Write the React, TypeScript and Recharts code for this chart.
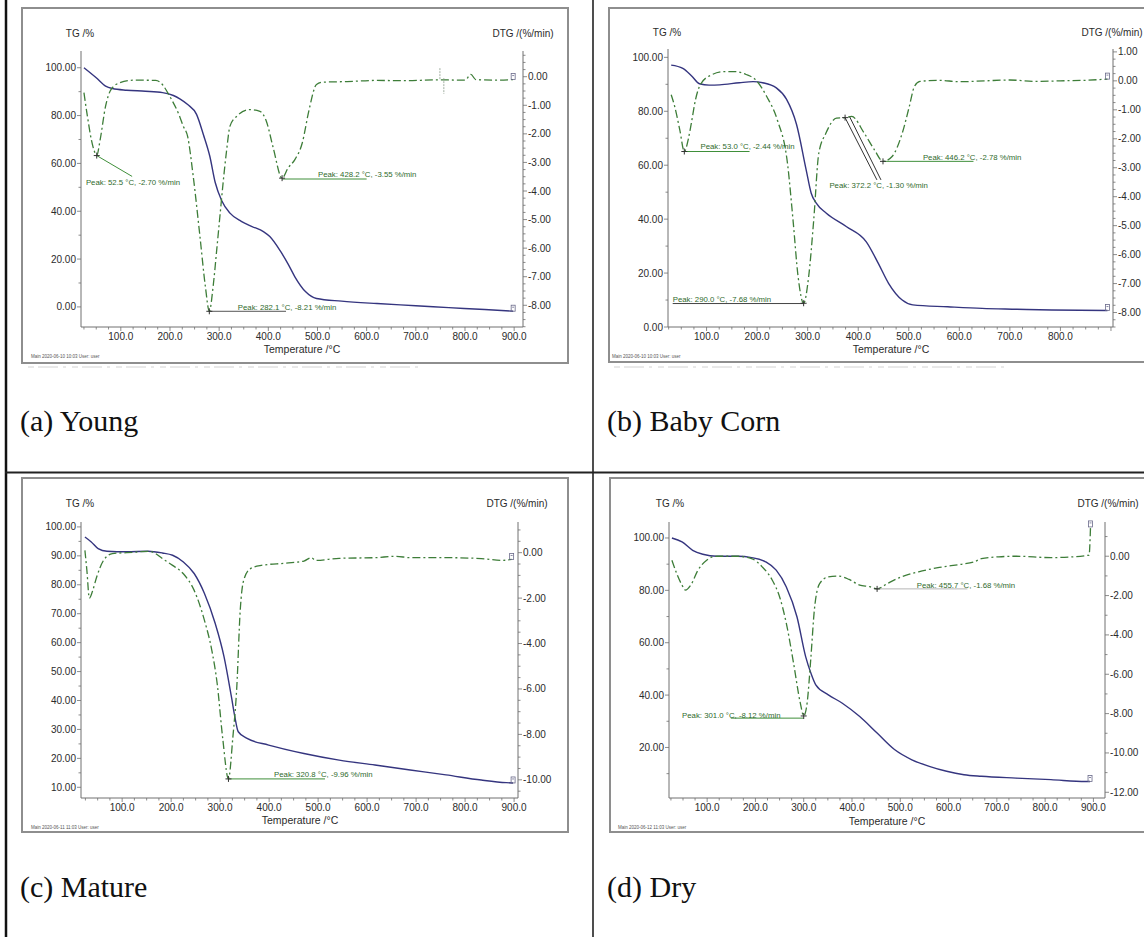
import React from 'react'
import { ComposedChart, Line, XAxis, YAxis, ReferenceLine, ReferenceDot } from 'recharts'

// ---------- (a) Young ----------
const youngTgTemp = [25, 50, 69, 83, 112, 150, 185, 207, 220, 236, 254, 268, 281, 292, 305, 322, 345, 367, 390, 403, 424, 440, 454, 476, 498, 549, 621, 700, 767, 840, 898]
const youngTg = [100, 95.8, 92.3, 91.3, 90.6, 90.2, 89.6, 88.4, 87, 84.6, 80.5, 72, 63, 52, 44.5, 39.2, 35.8, 33.6, 31.5, 29.4, 23.5, 18, 12.6, 6.3, 3.5, 2.4, 1.4, 0.5, -0.3, -1.1, -1.8]
const youngDtgTemp = [25, 32, 40, 46, 51, 58, 69, 80, 98, 127, 171, 181, 200, 218, 227, 236, 247, 261, 272, 280, 288, 295, 302, 308, 315, 322, 336, 363, 383, 396, 410, 428, 440, 454, 469, 483, 498, 512, 560, 620, 680, 740, 800, 812, 822, 860, 898]
const youngDtg = [-0.56, -1.38, -2.2, -2.6, -2.76, -2.2, -1.03, -0.45, -0.21, -0.12, -0.13, -0.21, -0.7, -1.32, -1.73, -2.1, -3.45, -5.6, -7.35, -8.21, -7.3, -6.07, -4.8, -3.72, -2.6, -1.73, -1.38, -1.15, -1.21, -1.56, -2.49, -3.55, -3.2, -2.9, -2.32, -1.15, -0.27, -0.19, -0.17, -0.13, -0.14, -0.11, -0.12, 0.08, -0.1, -0.12, -0.1]

// ---------- (b) Baby Corn ----------
const babyTgTemp = [30, 53, 70, 86, 105, 126, 165, 192, 211, 238, 258, 278, 297, 307, 317, 337, 377, 416, 440, 460, 487, 508, 577, 645, 714, 783, 893]
const babyTg = [97.1, 95.9, 93.2, 90.2, 89.7, 89.8, 90.6, 91.0, 90.6, 88.7, 84.5, 75.1, 58.3, 49.6, 45.9, 42.2, 37.2, 31.6, 23.5, 16.2, 10.0, 8.2, 7.5, 6.9, 6.6, 6.3, 6.1]
const babyDtgTemp = [30, 37, 47, 56, 64, 70, 78, 88, 109, 136, 157, 178, 198, 219, 240, 260, 271, 281, 292, 302, 312, 322, 336, 357, 374, 387, 412, 432, 449, 467, 487, 501, 511, 522, 560, 600, 650, 700, 750, 800, 850, 893]
const babyDtg = [-0.48, -0.89, -1.69, -2.44, -2.0, -1.45, -0.66, -0.12, 0.2, 0.32, 0.32, 0.22, 0.02, -0.54, -1.35, -2.84, -4.8, -6.75, -7.68, -6.75, -4.8, -2.5, -1.81, -1.29, -1.27, -1.23, -1.81, -2.38, -2.78, -2.61, -1.81, -0.89, -0.2, -0.02, 0.02, -0.03, 0.0, 0.03, -0.02, 0.0, 0.02, 0.06]

// ---------- (c) Mature ----------
const matureTgTemp = [24, 37, 51, 69, 109, 153, 182, 203, 225, 247, 268, 290, 308, 323, 330, 337, 355, 399, 471, 543, 616, 688, 761, 833, 884, 898]
const matureTg = [96.5, 94.8, 92.5, 91.6, 91.4, 91.6, 91.0, 90.2, 87.9, 83.9, 77, 66.6, 55.1, 41.3, 34.4, 29.2, 26.9, 24.6, 21.7, 19.4, 17.7, 16.0, 14.3, 12.5, 11.6, 11.5]
const matureDtgTemp = [24, 28, 33, 40, 48, 62, 80, 109, 130, 153, 165, 182, 203, 225, 247, 268, 283, 294, 305, 317, 326, 334, 341, 348, 362, 384, 435, 471, 486, 495, 543, 616, 659, 688, 761, 833, 876, 895]
const matureDtg = [0.1, -0.78, -2.0, -1.66, -1.07, -0.34, -0.04, 0, 0.03, 0.06, 0.0, -0.26, -0.56, -0.93, -1.66, -2.98, -4.3, -5.77, -8.12, -9.96, -8.12, -5.92, -2.54, -1.22, -0.7, -0.56, -0.46, -0.37, -0.22, -0.34, -0.25, -0.22, -0.16, -0.22, -0.22, -0.26, -0.34, -0.3]

// ---------- (d) Dry ----------
const dryTgTemp = [27, 48, 70, 91, 120, 163, 192, 221, 243, 264, 286, 304, 315, 325, 351, 380, 416, 452, 488, 524, 560, 596, 632, 668, 740, 812, 884, 893]
const dryTg = [100, 98.5, 95.3, 93.8, 93, 93, 92.5, 90.9, 87.7, 81.3, 69.9, 54.7, 48.3, 43.9, 40.1, 36.9, 31.8, 25.5, 19.2, 15.3, 12.8, 10.9, 9.6, 9.0, 8.3, 7.7, 7.0, 7.0]
const dryDtgTemp = [27, 37, 48, 55, 66, 81, 99, 120, 163, 192, 214, 235, 250, 264, 279, 293, 300, 307, 315, 322, 333, 351, 372, 394, 416, 437, 452, 473, 502, 538, 581, 625, 653, 668, 704, 740, 812, 891, 894]
const dryDtg = [-0.2, -0.88, -1.47, -1.72, -1.47, -0.71, -0.2, 0, 0, -0.12, -0.54, -1.22, -2.06, -3.41, -5.44, -7.47, -8.12, -7.47, -5.1, -2.74, -1.39, -1.05, -1.01, -1.18, -1.47, -1.55, -1.66, -1.39, -1.05, -0.79, -0.57, -0.41, -0.29, -0.12, -0.03, 0, -0.07, 0.05, 1.49]

// tick labels
const xLabelsFull = [100, 200, 300, 400, 500, 600, 700, 800, 900]
const xLabelsTo800 = [100, 200, 300, 400, 500, 600, 700, 800]
const tgLabels20 = [0, 20, 40, 60, 80, 100]
const tgLabels20NoZero = [20, 40, 60, 80, 100]
const tgLabels10 = [10, 20, 30, 40, 50, 60, 70, 80, 90, 100]
const dtgLabelsYoung = [0, -1, -2, -3, -4, -5, -6, -7, -8]
const dtgLabelsBaby = [1, 0, -1, -2, -3, -4, -5, -6, -7, -8]
const dtgLabelsMature = [0, -2, -4, -6, -8, -10]
const dtgLabelsDry = [0, -2, -4, -6, -8, -10, -12]

const AX = '#707070'
const TXT = '#2b2b2b'
const TG_COLOR = '#35357f'
const DTG_COLOR = '#3d7d38'
const ANN = '#3f8f3a'
const SANS = '"Liberation Sans", Arial, sans-serif'
const SERIF = '"Liberation Serif", "Times New Roman", serif'

function range(a: number, b: number, step: number) {
  const out: number[] = []
  for (let v = a; v <= b + 1e-9; v += step) out.push(Math.round(v * 1000) / 1000)
  return out
}

function XTick({ x, y, payload, labels }: any) {
  const v = payload.value
  const major = Math.abs(v % 100) < 1e-6
  return (
    <g>
      <line x1={x} x2={x} y1={y} y2={y + (major ? 4 : 2.5)} stroke={AX} strokeWidth={0.8} />
      {labels.includes(v) && (
        <text x={x} y={y + 13} textAnchor="middle" fontSize={10} fontFamily={SANS} fill={TXT}>{v.toFixed(1)}</text>
      )}
    </g>
  )
}

function LeftTick({ x, y, payload, labels }: any) {
  const v = payload.value
  const major = labels.includes(v)
  return (
    <g>
      <line x1={x} x2={x - (major ? 4 : 2.5)} y1={y} y2={y} stroke={AX} strokeWidth={0.8} />
      {major && <text x={x - 5} y={y + 3.5} textAnchor="end" fontSize={10} fontFamily={SANS} fill={TXT}>{v.toFixed(2)}</text>}
    </g>
  )
}

function RightTick({ x, y, payload, labels }: any) {
  const v = payload.value
  const major = labels.includes(v)
  return (
    <g>
      <line x1={x} x2={x + (major ? 4 : 2.5)} y1={y} y2={y} stroke={AX} strokeWidth={0.8} />
      {major && <text x={x + 5} y={y + 3.5} textAnchor="start" fontSize={10} fontFamily={SANS} fill={TXT}>{v.toFixed(2)}</text>}
    </g>
  )
}

// small end-of-curve segment markers drawn by the instrument software
function EndMark(p: any) {
  return (
    <g stroke="#6a6a8a" strokeWidth={0.8} fill="none">
      <rect x={p.cx - 2} y={p.cy - 6} width={4} height={6} />
      <line x1={p.cx - 1} x2={p.cx + 1} y1={p.cy - 4} y2={p.cy - 4} />
    </g>
  )
}

type Ann = { peak: [number, number]; lines: number[][]; text: [number, number]; label: string; lineColor?: string }
type Box = { l: number; t: number; r: number; b: number }
type Cfg = {
  box: Box; plot: Box
  xDomain: [number, number]; tgDomain: [number, number]; dtgDomain: [number, number]
  xLabels: number[]; tgLabels: number[]; tgMinor: number; dtgLabels: number[]; dtgMinor: number
  tgT: number[]; tg: number[]; dtgT: number[]; dtg: number[]
  anns: Ann[]
  extra?: number[][]
}

const panels: Cfg[] = [
  {
    box: { l: 22, t: 8, r: 568, b: 363 }, plot: { l: 81, t: 51, r: 523, b: 327 },
    xDomain: [19, 918], tgDomain: [-8.4, 107], dtgDomain: [-8.76, 0.9],
    xLabels: xLabelsFull, tgLabels: tgLabels20, tgMinor: 10, dtgLabels: dtgLabelsYoung, dtgMinor: 0.25,
    tgT: youngTgTemp, tg: youngTg, dtgT: youngDtgTemp, dtg: youngDtg,
    anns: [
      { peak: [51, -2.76], lines: [[51, -2.76, 123, -3.49]], text: [29, -3.69], label: 'Peak: 52.5 °C, -2.70 %/min' },
      { peak: [280, -8.21], lines: [[280, -8.21, 436, -8.21]], text: [338, -8.06], label: 'Peak: 282.1 °C, -8.21 %/min', lineColor: '#555' },
      { peak: [428, -3.55], lines: [[428, -3.58, 600, -3.58]], text: [501, -3.41], label: 'Peak: 428.2 °C, -3.55 %/min' },
    ],
    extra: [[749, 0.3, 749, -0.1], [757, -0.05, 757, -0.6]],
  },
  {
    box: { l: 609, t: 8, r: 1160, b: 362 }, plot: { l: 668, t: 49, r: 1113, b: 327 },
    xDomain: [23.7, 904], tgDomain: [0, 103.1], dtgDomain: [-8.5, 1.1],
    xLabels: xLabelsTo800, tgLabels: tgLabels20, tgMinor: 10, dtgLabels: dtgLabelsBaby, dtgMinor: 0.25,
    tgT: babyTgTemp, tg: babyTg, dtgT: babyDtgTemp, dtg: babyDtg,
    anns: [
      { peak: [56, -2.44], lines: [[56, -2.44, 185, -2.44]], text: [88, -2.27], label: 'Peak: 53.0 °C, -2.44 %/min' },
      { peak: [374, -1.27], lines: [[374, -1.27, 437, -3.42], [383, -1.24, 445, -3.42]], text: [343, -3.62], label: 'Peak: 372.2 °C, -1.30 %/min', lineColor: '#333' },
      { peak: [449, -2.78], lines: [[449, -2.78, 628, -2.78]], text: [528, -2.62], label: 'Peak: 446.2 °C, -2.78 %/min' },
      { peak: [292, -7.68], lines: [[33, -7.69, 292, -7.69]], text: [33, -7.55], label: 'Peak: 290.0 °C, -7.68 %/min', lineColor: '#444' },
    ],
  },
  {
    box: { l: 22, t: 478, r: 568, b: 832 }, plot: { l: 81, t: 522, r: 518, b: 798 },
    xDomain: [16, 908], tgDomain: [6.3, 101.7], dtgDomain: [-10.8, 1.35],
    xLabels: xLabelsFull, tgLabels: tgLabels10, tgMinor: 5, dtgLabels: dtgLabelsMature, dtgMinor: 0.5,
    tgT: matureTgTemp, tg: matureTg, dtgT: matureDtgTemp, dtg: matureDtg,
    anns: [
      { peak: [317, -9.96], lines: [[317, -9.96, 514, -9.96]], text: [410, -9.77], label: 'Peak: 320.8 °C, -9.96 %/min' },
    ],
  },
  {
    box: { l: 610, t: 478, r: 1160, b: 832 }, plot: { l: 669, t: 522, r: 1105, b: 798 },
    xDomain: [21, 924], tgDomain: [0.7, 106.1], dtgDomain: [-12.29, 1.74],
    xLabels: xLabelsFull, tgLabels: tgLabels20NoZero, tgMinor: 10, dtgLabels: dtgLabelsDry, dtgMinor: 1,
    tgT: dryTgTemp, tg: dryTg, dtgT: dryDtgTemp, dtg: dryDtg,
    anns: [
      { peak: [300, -8.12], lines: [[149, -8.23, 300, -8.23]], text: [48, -8.06], label: 'Peak: 301.0 °C, -8.12 %/min' },
      { peak: [452, -1.66], lines: [[452, -1.66, 639, -1.66]], text: [534, -1.47], label: 'Peak: 455.7 °C, -1.68 %/min', lineColor: '#b5b5b5' },
    ],
  },
]

function Panel({ cfg }: { cfg: Cfg }) {
  const { box, plot } = cfg
  const width = box.r - box.l
  const height = box.b - box.t
  const tgData = cfg.tgT.map((t, i) => ({ t, v: cfg.tg[i] }))
  const dtgData = cfg.dtgT.map((t, i) => ({ t, v: cfg.dtg[i] }))
  const xTicks = range(25, cfg.xDomain[1], 25)
  const tgTicks = range(Math.ceil(cfg.tgDomain[0] / cfg.tgMinor) * cfg.tgMinor, cfg.tgDomain[1], cfg.tgMinor)
  const dtgTicks = range(Math.ceil(cfg.dtgDomain[0] / cfg.dtgMinor) * cfg.dtgMinor, cfg.dtgDomain[1], cfg.dtgMinor)
  const tgEnd = tgData[tgData.length - 1]
  const dtgEnd = dtgData[dtgData.length - 1]
  return (
    <div style={{ position: 'absolute', left: box.l, top: box.t }}>
      <ComposedChart width={width} height={height} margin={{ top: plot.t - box.t, right: 0, bottom: 0, left: 0 }}>
        <XAxis type="number" dataKey="t" domain={cfg.xDomain} allowDataOverflow ticks={xTicks} interval={0}
          tickSize={0} tickMargin={0} tickLine={false} height={box.b - plot.b}
          axisLine={{ stroke: AX, strokeWidth: 1 }}
          tick={(p: any) => <XTick {...p} labels={cfg.xLabels} />} />
        <YAxis yAxisId="tg" orientation="left" type="number" domain={cfg.tgDomain} allowDataOverflow ticks={tgTicks}
          interval={0} tickSize={0} tickMargin={0} tickLine={false} width={plot.l - box.l}
          axisLine={{ stroke: AX, strokeWidth: 1 }}
          tick={(p: any) => <LeftTick {...p} labels={cfg.tgLabels} />} />
        <YAxis yAxisId="dtg" orientation="right" type="number" domain={cfg.dtgDomain} allowDataOverflow ticks={dtgTicks}
          interval={0} tickSize={0} tickMargin={0} tickLine={false} width={box.r - plot.r}
          axisLine={{ stroke: AX, strokeWidth: 1 }}
          tick={(p: any) => <RightTick {...p} labels={cfg.dtgLabels} />} />
        <Line yAxisId="tg" data={tgData} dataKey="v" type="monotone" stroke={TG_COLOR} strokeWidth={1.4}
          dot={false} isAnimationActive={false} />
        <Line yAxisId="dtg" data={dtgData} dataKey="v" type="monotone" stroke={DTG_COLOR} strokeWidth={1.3}
          strokeDasharray="8 3 2 3" dot={false} isAnimationActive={false} />
        {(cfg.extra || []).map((ln, i) => (
          <ReferenceLine key={`e${i}`} yAxisId="dtg" ifOverflow="visible"
            segment={[{ x: ln[0], y: ln[1] }, { x: ln[2], y: ln[3] }]}
            stroke="#8a9a8a" strokeWidth={0.8} strokeDasharray="2 1" />
        ))}
        {cfg.anns.flatMap((a, i) => a.lines.map((ln, j) => (
          <ReferenceLine key={`l${i}-${j}`} yAxisId="dtg" ifOverflow="visible"
            segment={[{ x: ln[0], y: ln[1] }, { x: ln[2], y: ln[3] }]}
            stroke={a.lineColor || ANN} strokeWidth={1} />
        )))}
        {cfg.anns.map((a, i) => (
          <ReferenceDot key={`p${i}`} yAxisId="dtg" x={a.peak[0]} y={a.peak[1]} r={0} ifOverflow="visible"
            shape={(p: any) => (
              <g>
                <line x1={p.cx - 3} x2={p.cx + 3} y1={p.cy} y2={p.cy} stroke="#333" strokeWidth={1} />
                <line x1={p.cx} x2={p.cx} y1={p.cy - 3} y2={p.cy + 3} stroke="#333" strokeWidth={1} />
              </g>
            )} />
        ))}
        {cfg.anns.map((a, i) => (
          <ReferenceDot key={`t${i}`} yAxisId="dtg" x={a.text[0]} y={a.text[1]} r={0} ifOverflow="visible"
            shape={(p: any) => (
              <text x={p.cx} y={p.cy + 2.8} fontSize={7.8} fontFamily={SANS} fill="#2f6a2c">{a.label}</text>
            )} />
        ))}
        <ReferenceDot yAxisId="tg" x={tgEnd.t} y={tgEnd.v} r={0} ifOverflow="visible" shape={EndMark} />
        <ReferenceDot yAxisId="dtg" x={dtgEnd.t} y={dtgEnd.v} r={0} ifOverflow="visible" shape={EndMark} />
      </ComposedChart>
    </div>
  )
}

type Note = { x: number; y: number; s: string; size: number; anchor?: 'start' | 'middle' | 'end'; color?: string }

const notes: Note[] = [
  { x: 80, y: 33, s: 'TG /%', size: 10 },
  { x: 523, y: 33, s: 'DTG /(%/min)', size: 10 },
  { x: 302, y: 349, s: 'Temperature /°C', size: 10.5 },
  { x: 31, y: 356, s: 'Main   2020-06-10 10:03    User: user', size: 4.5, anchor: 'start', color: '#555' },
  { x: 667, y: 32, s: 'TG /%', size: 10 },
  { x: 1112, y: 32, s: 'DTG /(%/min)', size: 10 },
  { x: 891, y: 349, s: 'Temperature /°C', size: 10.5 },
  { x: 612, y: 356, s: 'Main   2020-06-10 10:03    User: user', size: 4.5, anchor: 'start', color: '#555' },
  { x: 80, y: 503, s: 'TG /%', size: 10 },
  { x: 517, y: 503, s: 'DTG /(%/min)', size: 10 },
  { x: 300, y: 820, s: 'Temperature /°C', size: 10.5 },
  { x: 31, y: 827, s: 'Main   2020-06-11 11:03    User: user', size: 4.5, anchor: 'start', color: '#555' },
  { x: 670, y: 503, s: 'TG /%', size: 10 },
  { x: 1108, y: 503, s: 'DTG /(%/min)', size: 10 },
  { x: 887, y: 821, s: 'Temperature /°C', size: 10.5 },
  { x: 618, y: 827, s: 'Main   2020-06-12 11:03    User: user', size: 4.5, anchor: 'start', color: '#555' },
]

const captions = [
  { x: 20, y: 431, s: '(a) Young' },
  { x: 607, y: 431, s: '(b) Baby Corn' },
  { x: 20, y: 897, s: '(c) Mature' },
  { x: 607, y: 897, s: '(d) Dry' },
]

export default function App() {
  return (
    <div style={{ position: 'absolute', left: 0, top: 0, width: 1144, height: 937, overflow: 'hidden', background: '#fff' }}>
      <svg width={1144} height={937} style={{ position: 'absolute', left: 0, top: 0 }}>
        {/* table rules */}
        <line x1={6} x2={6} y1={0} y2={937} stroke="#111" strokeWidth={2.5} />
        <line x1={593} x2={593} y1={0} y2={937} stroke="#222" strokeWidth={1.6} />
        <line x1={5} x2={1144} y1={472.5} y2={472.5} stroke="#222" strokeWidth={2.2} />
        {/* faint scan residue under the top screenshots */}
        <line x1={28} x2={420} y1={367} y2={367} stroke="#d2d2d2" strokeWidth={1} strokeDasharray="6 4 20 5 3 6" />
        <line x1={614} x2={1010} y1={367} y2={367} stroke="#d2d2d2" strokeWidth={1} strokeDasharray="6 4 20 5 3 6" />
        {/* screenshot frames */}
        {panels.map((p, i) => (
          <rect key={i} x={p.box.l} y={p.box.t} width={p.box.r - p.box.l} height={p.box.b - p.box.t}
            fill="none" stroke="#8e8e8e" strokeWidth={2} />
        ))}
        {notes.map((n, i) => (
          <text key={i} x={n.x} y={n.y + n.size * 0.35} fontSize={n.size} fontFamily={SANS}
            textAnchor={n.anchor || 'middle'} fill={n.color || TXT}>{n.s}</text>
        ))}
        {captions.map((c, i) => (
          <text key={i} x={c.x} y={c.y} fontSize={30} fontFamily={SERIF} fill="#111">{c.s}</text>
        ))}
      </svg>
      {panels.map((p, i) => <Panel key={i} cfg={p} />)}
    </div>
  )
}
